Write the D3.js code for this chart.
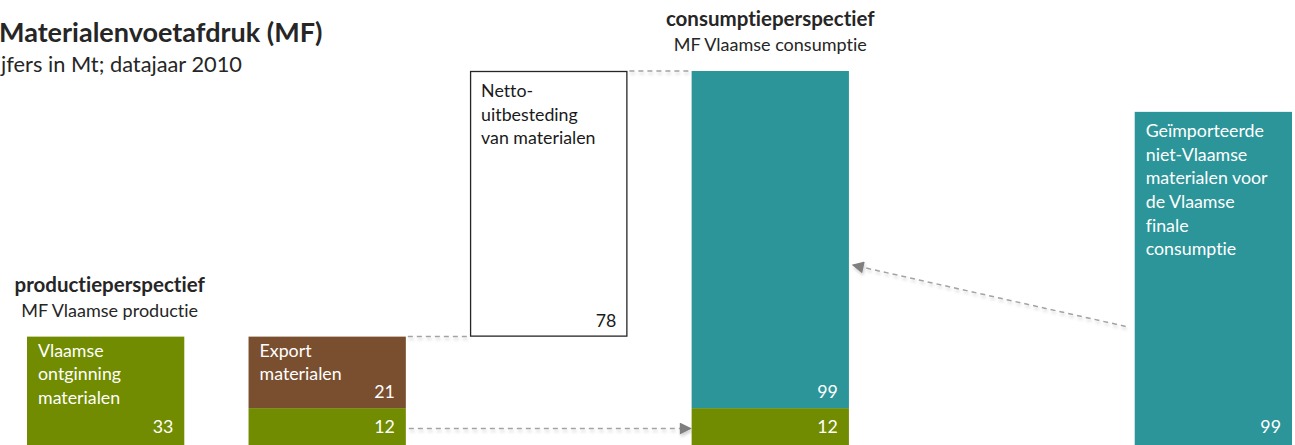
<!DOCTYPE html>
<html>
<head>
<meta charset="utf-8">
<script src="https://cdn.jsdelivr.net/npm/d3@7"></script>
<style>
  html, body { margin: 0; padding: 0; background: #fff; overflow: hidden; }
  svg { display: block; font-family: Lato, "Open Sans", sans-serif; font-variant-ligatures: none; }
</style>
</head>
<body>
<svg id="chart" width="1295" height="445"></svg>
<script>
// Material footprint of Flanders (Mt, 2010): production vs consumption perspective

const columns = ["productie", "export", "netto", "consumptie", "gap", "import"];

// stacked segments, bottom to top within each column
const segColumn = ["productie", "export", "export", "netto", "consumptie", "consumptie", "import"];
const segKind   = ["vlaams", "vlaams", "export", "netto", "vlaams", "import", "import"];
const segValue  = [33, 12, 21, 78, 12, 99, 99];
const segLabel  = [
  ["Vlaamse", "ontginning", "materialen"],
  [],
  ["Export", "materialen"],
  ["Netto-", "uitbesteding", "van materialen"],
  [],
  [],
  ["Geïmporteerde", "niet-Vlaamse", "materialen voor", "de Vlaamse", "finale", "consumptie"]
];
// the outsourcing box floats on top of the export column
const floatsOn = { netto: "export" };

const perspectiveColumns = ["productie", "consumptie"];
const perspectiveTitles  = ["productieperspectief", "consumptieperspectief"];
const perspectiveSubs    = ["MF Vlaamse productie", "MF Vlaamse consumptie"];

const chartTitle    = "Materialenvoetafdruk (MF)";
const chartSubtitle = "Cijfers in Mt; datajaar 2010";

// flow arrows: source column and level, target column and level
const flowFrom      = ["export", "import"];
const flowFromValue = [6, 36];
const flowTo        = ["consumptie", "consumptie"];
const flowToValue   = [6, 54];

const fillByKind   = { vlaams: "#718c00", export: "#7a4f2f", netto: "#ffffff", import: "#2b9599" };
const textByKind   = { vlaams: "#ffffff", export: "#ffffff", netto: "#1a1a1a", import: "#ffffff" };
const topPadByKind = { vlaams: 20, export: 20, netto: 26, import: 25 };

const svg = d3.select("#chart");

const x = d3.scaleBand().domain(columns).range([27, 1292]).paddingInner(0.29).paddingOuter(0);
const y = d3.scaleLinear().domain([0, 111]).range([449, 71]);

// stacked bases per column
const colTop = {};
const segs = segValue.map((v, i) => {
  const col = segColumn[i];
  let base = colTop[col];
  if (base === undefined) base = floatsOn[col] ? colTop[floatsOn[col]] : 0;
  colTop[col] = base + v;
  return { col, kind: segKind[i], value: v, base, top: base + v, label: segLabel[i] };
});

const defs = svg.append("defs");
const shadow = defs.append("filter").attr("id", "soft").attr("x", "-10%").attr("y", "-100%")
  .attr("width", "120%").attr("height", "300%");
shadow.append("feDropShadow").attr("dx", 1).attr("dy", 2.5).attr("stdDeviation", 1.6)
  .attr("flood-color", "#000").attr("flood-opacity", 0.18);
defs.append("marker").attr("id", "head").attr("viewBox", "0 0 10 10")
  .attr("refX", 9).attr("refY", 5)
  .attr("markerUnits", "userSpaceOnUse").attr("orient", "auto")
  .attr("markerWidth", 14).attr("markerHeight", 12)
  .append("path").attr("d", "M0,0 L10,5 L0,10 Z").attr("fill", "#7f7f7f");

// titles (the block starts slightly beyond the left edge)
svg.append("text").attr("x", -1).attr("y", 42)
  .attr("font-size", 27).attr("font-weight", 700).attr("fill", "#262626")
  .text(chartTitle);
svg.append("text").attr("x", 242).attr("y", 72).attr("text-anchor", "end")
  .attr("font-size", 21.8).attr("fill", "#262626")
  .text(chartSubtitle);

// dashed connectors between column tops
const dashColor = "#a3a3a3";
const conn = svg.append("g").attr("filter", "url(#soft)");
const connectors = [["export", "netto"], ["netto", "consumptie"]];
connectors.forEach(([a, b]) => {
  const lvl = colTop[a];
  conn.append("line")
    .attr("x1", x(a) + x.bandwidth() + 2).attr("x2", x(b) - 1)
    .attr("y1", y(lvl)).attr("y2", y(lvl))
    .attr("stroke", dashColor).attr("stroke-width", 1.5).attr("stroke-dasharray", "5,4");
});

// flow arrows
flowFrom.forEach((f, i) => {
  const t = flowTo[i];
  const leftToRight = columns.indexOf(f) < columns.indexOf(t);
  const x1 = leftToRight ? x(f) + x.bandwidth() + 3 : x(f) - 9;
  const x2 = leftToRight ? x(t) - 1 : x(t) + x.bandwidth() + 4;
  conn.append("line")
    .attr("x1", x1).attr("y1", y(flowFromValue[i]))
    .attr("x2", x2).attr("y2", y(flowToValue[i]))
    .attr("stroke", dashColor).attr("stroke-width", 1.5).attr("stroke-dasharray", "5,4")
    .attr("marker-end", "url(#head)");
});

// segments
const segG = svg.append("g").selectAll("g.seg").data(segs).join("g").attr("class", "seg");
segG.append("rect")
  .attr("x", d => x(d.col) + (d.kind === "netto" ? 0.5 : 0))
  .attr("y", d => y(d.top) + (d.kind === "netto" ? 0.5 : 0))
  .attr("width", d => x.bandwidth() - (d.kind === "netto" ? 1 : 0))
  .attr("height", d => y(d.base) - y(d.top) - (d.kind === "netto" ? 1 : 0))
  .attr("fill", d => fillByKind[d.kind])
  .attr("stroke", d => d.kind === "netto" ? "#262626" : "none")
  .attr("stroke-width", 1.3);

// multi-line labels and values
const lineH = 23.7;
segG.each(function (d) {
  const sel = d3.select(this);
  d.label.forEach((line, k) => {
    sel.append("text")
      .attr("x", x(d.col) + 11)
      .attr("y", y(d.top) + topPadByKind[d.kind] + k * lineH)
      .attr("font-size", 17.8).attr("fill", textByKind[d.kind])
      .text(line);
  });
  sel.append("text")
    .attr("x", x(d.col) + x.bandwidth() - 11)
    .attr("y", Math.min(y(d.base) - 10, 433))
    .attr("text-anchor", "end")
    .attr("font-size", 17.8).attr("fill", textByKind[d.kind])
    .text(d.value);
});

// perspective headings
perspectiveColumns.forEach((c, i) => {
  const cx = x(c) + x.bandwidth() / 2 + (i === 0 ? 4 : 0);
  const topY = y(colTop[c]);
  svg.append("text").attr("x", cx).attr("y", topY - 45).attr("text-anchor", "middle")
    .attr("font-size", 20.5).attr("font-weight", 700).attr("fill", "#262626")
    .text(perspectiveTitles[i]);
  svg.append("text").attr("x", cx).attr("y", topY - 20).attr("text-anchor", "middle")
    .attr("font-size", 18).attr("fill", "#262626")
    .text(perspectiveSubs[i]);
});
</script>
</body>
</html>
